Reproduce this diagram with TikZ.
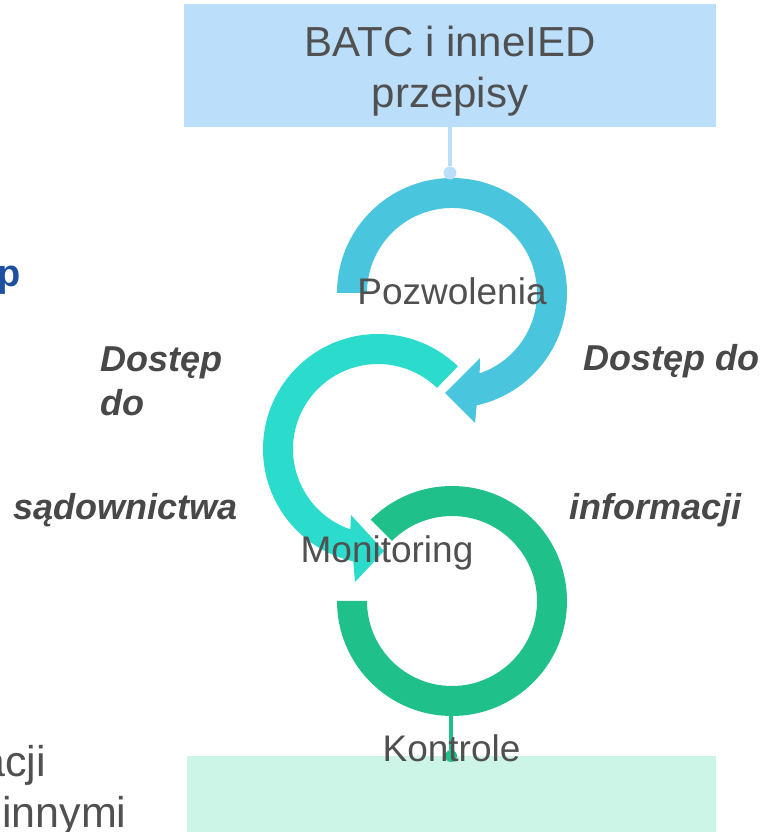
\documentclass[tikz,border=0pt]{standalone}
\usepackage{fontspec}
\setmainfont{Liberation Sans}
\definecolor{topblue}{HTML}{BBDEFB}
\definecolor{arcblue}{HTML}{49C5DD}
\definecolor{arcteal}{HTML}{2BDBCB}
\definecolor{arcgreen}{HTML}{20C08A}
\definecolor{mint}{HTML}{CCF5E7}
\definecolor{labelgray}{HTML}{505050}
\definecolor{italgray}{HTML}{484848}
\definecolor{deepblue}{HTML}{1E50A2}
\begin{document}
\begin{tikzpicture}[x=1pt,y=1pt,
  boxtop/.style={fill=topblue, draw=none, minimum width=532pt, minimum height=123pt, inner sep=0pt},
  boxbottom/.style={fill=mint, draw=none, minimum width=529pt, minimum height=76pt, inner sep=0pt},
  boxtext/.style={text=labelgray, font=\fontsize{42}{50}\selectfont, inner sep=0pt, anchor=base},
  mainlabel/.style={text=labelgray, font=\fontsize{37}{44}\selectfont, inner sep=0pt, anchor=base},
  sidelabel/.style={text=italgray, font=\bfseries\itshape\fontsize{36}{43}\selectfont, inner sep=0pt, anchor=base west},
  edgetext/.style={text=labelgray, font=\fontsize{43}{50}\selectfont, inner sep=0pt},
  dotnode/.style={circle, inner sep=0pt, minimum size=13pt, draw=none},
  stemline/.style={line width=4pt}
]
\useasboundingbox (0,0) rectangle (769,832);
\fill[white] (0,0) rectangle (769,832);

% boxes
\node[boxtop] (batc) at (450,766.5) {};
\node[boxbottom] (bottombox) at (451.5,38) {};

% rings
\begin{scope}[shift={(452,539)}]
  \fill[arcblue] (180:115) arc[start angle=180, end angle=-77.6, radius=115]
    -- (23,-130) -- (-7,-100) -- (28,-65) -- (-71:85)
    arc[start angle=-71, end angle=180, radius=85] -- cycle;
\end{scope}
\begin{scope}[shift={(378,383)}]
  \fill[arcteal] (46:115) arc[start angle=46, end angle=257.6, radius=115]
    -- (-23,-133) -- (6,-102) -- (-27,-66) -- (251:85)
    arc[start angle=251, end angle=46, radius=85] -- cycle;
\end{scope}
\begin{scope}[shift={(452,231)}]
  \fill[arcgreen] (135:115) arc[start angle=135, end angle=-180, radius=115]
    -- (180:85) arc[start angle=-180, end angle=135, radius=85] -- cycle;
  \coordinate (greenbottom) at (-1,-115);
\end{scope}

% stems and dots
\node[dotnode, fill=topblue] (topdot) at (450,659) {};
\draw[stemline, topblue] (batc.south -| topdot) -- (topdot);
\node[dotnode, fill=arcgreen, minimum size=12pt] (bottomdot) at (451,76) {};
\draw[stemline, arcgreen] (greenbottom) -- (bottomdot);

% box text
\node[boxtext] (batc1) at (450,775) {BATC i inneIED};
\node[boxtext] (batc2) at (450,724) {przepisy};

% cycle labels
\node[mainlabel] (pozw) at (452,527) {Pozwolenia};
\node[mainlabel] (monit) at (387,269) {Monitoring};
\node[mainlabel] (kontr) at (451.5,70) {Kontrole};

% side labels
\node[sidelabel] (dostL1) at (100,460) {Dostęp};
\node[sidelabel] (dostL2) at (100,416) {do};
\node[sidelabel] (sadown) at (13,312) {sądownictwa};
\node[sidelabel] (dostR) at (583,461) {Dostęp do};
\node[sidelabel] (inform) at (569,312) {informacji};

% cut-off texts at the left edge
\node[text=deepblue, font=\bfseries\fontsize{38}{44}\selectfont, inner sep=0pt, anchor=base west] (pcut) at (-3,545) {p};
\node[edgetext, anchor=base east] (acji) at (46,55) {acji};
\node[edgetext, anchor=base west] (innymi) at (2,5) {innymi};
\end{tikzpicture}
\end{document}
